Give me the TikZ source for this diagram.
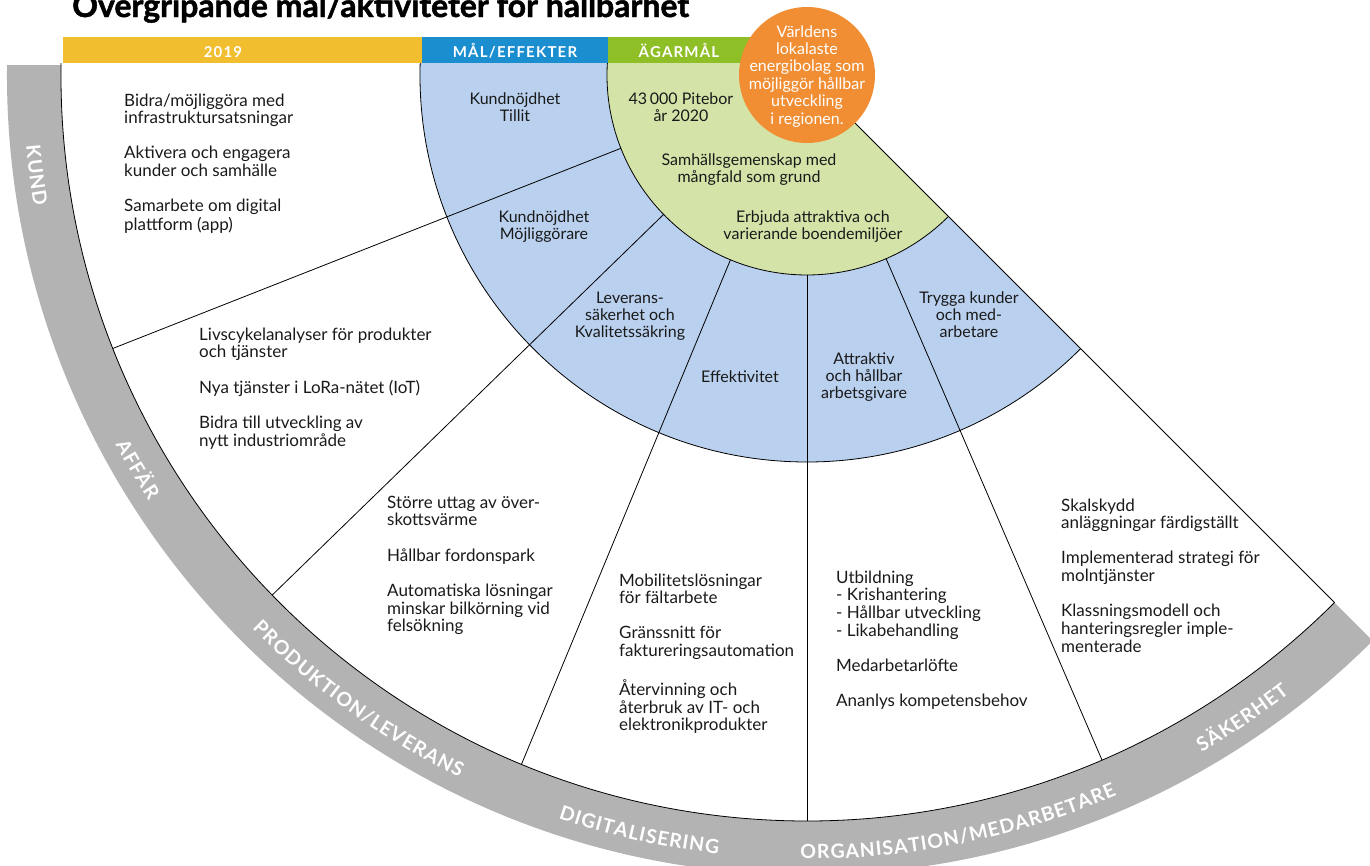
\documentclass[tikz,border=0pt]{standalone}
\usepackage{fontspec}
\setmainfont{Lato}
\usetikzlibrary{decorations.text}
\definecolor{hdyellow}{HTML}{F1BE2F}
\definecolor{hdblue}{HTML}{1B8ECF}
\definecolor{hdgreen}{HTML}{8EBF26}
\definecolor{fillgreen}{HTML}{D4E4A8}
\definecolor{fillblue}{HTML}{B9D0EE}
\definecolor{orangec}{HTML}{F18D32}
\definecolor{bandgray}{HTML}{B3B3B3}
\definecolor{txtblack}{HTML}{1A1A1A}
\newcommand{\bodyfont}{\fontsize{17}{17.4}\selectfont}
\newcommand{\innerfont}{\fontsize{16}{17.4}\selectfont}
\newcommand{\bandfont}{\fontsize{19.5}{19.5}\selectfont\bfseries}
\newcommand{\pgap}{\\[17.4pt]}
\newcommand{\lblock}[1]{\begin{tabular}[t]{@{}l@{}}#1\end{tabular}}
\newcommand{\cblock}[1]{\begin{tabular}[t]{@{}c@{}}#1\end{tabular}}
\newcommand{\bandlabel}[2]{%
  \path[font=\bandfont, decorate, decoration={text effects along path, text={#2}, text align=center,
    text effects/.cd, text along path, character widths={inner xsep=0.5pt, font=\bandfont},
    characters={text=white, font=\bandfont}}]
    (#1-16:784) arc[start angle=#1-16, end angle=#1+16, radius=784];}
\tikzset{
  txtl/.style={anchor=base west, inner sep=0pt, font=\bodyfont, text=txtblack},
  txtc/.style={anchor=base, inner sep=0pt, font=\innerfont, text=txtblack},
  divider/.style={line width=0.8pt, black},
  hdlabel/.style={anchor=base, text=white, inner sep=0pt,
    font=\fontsize{15}{15}\selectfont\bfseries\addfontfeature{LetterSpace=8}},
}
\begin{document}
\begin{tikzpicture}[x=1pt, y=1pt]
\useasboundingbox (-807,-790) rectangle (563,75);
% gray band
\begin{scope}
  \clip (-810,10) rectangle (570,-800);
  \fill[bandgray] (178:800) arc[start angle=178, end angle=315, radius=800]
    -- (315:746) arc[start angle=315, end angle=178, radius=746] -- cycle;
\end{scope}
% rings
\begin{scope}
  \clip (-810,12) rectangle (570,-800);
  \fill[fillblue] (178:387) arc[start angle=178, end angle=315, radius=387]
    -- (315:200) arc[start angle=315, end angle=176, radius=200] -- cycle;
  \fill[fillgreen] (0,13) -- (176.3:200) arc[start angle=176.3, end angle=315, radius=200] -- (0,0) -- cycle;
  \draw[divider] (178:746) arc[start angle=178, end angle=315, radius=746];
  \draw[divider] (178:387) arc[start angle=178, end angle=315, radius=387];
  \draw[divider] (176.3:200) arc[start angle=176.3, end angle=315, radius=200];
\end{scope}
% radial dividers
\foreach \a in {201.5,224.2,247.5,270,293.3}{
  \draw[divider] (\a:200) -- (\a:746);
}
\draw[divider] (0,0) -- (315:746);
% header
\fill[hdyellow] (-744,12) rectangle (-385,38);
\fill[hdblue] (-385,12) rectangle (-199,38);
\fill[hdgreen] (-199,12) rectangle (0,38);
\node[hdlabel] (h2019) at (-584,18) {2019};
\node[hdlabel] (hmal) at (-292,18) {MÅL/EFFEKTER};
\node[hdlabel] (hagar) at (-128,18) {ÄGARMÅL};
% title
\node[anchor=base west, inner sep=0pt, font=\fontsize{32}{32}\selectfont\bfseries\addfontfeature{FakeBold=1.5}] (title) at (-735,58) {Övergripande mål/aktiviteter för hållbarhet};
% orange circle
\fill[orangec] (0,0) circle[radius=68];
\node[anchor=base, inner sep=0pt, font=\innerfont, text=white] (vision) at (0,38)
  {\cblock{Världens\\lokalaste\\energibolag som\\möjliggör hållbar\\utveckling\\i regionen.}};
% green texts
\node[txtc] (pitebor) at (-126,-29) {\cblock{43\,000 Pitebor\\år 2020}};
\node[txtc] (samhalle) at (-58,-90) {\cblock{Samhällsgemenskap med\\mångfald som grund}};
\node[txtc] (boende) at (6,-147) {\cblock{Erbjuda attraktiva och\\varierande boendemiljöer}};
% blue texts
\node[txtc] (tillit) at (-292,-29) {\cblock{Kundnöjdhet\\Tillit}};
\node[txtc] (mojlig) at (-263,-147) {\cblock{Kundnöjdhet\\Möjliggörare}};
\node[txtc] (leverans) at (-177,-228) {\cblock{Leverans-\\säkerhet och\\Kvalitetssäkring}};
\node[txtc] (effekt) at (-67,-307) {Effektivitet};
\node[txtc] (arbets) at (57,-289) {\cblock{Attraktiv\\och hållbar\\arbetsgivare}};
\node[txtc] (trygga) at (162,-228) {\cblock{Trygga kunder\\och med-\\arbetare}};
% white texts
\node[txtl] (kund) at (-683,-31) {\lblock{Bidra/möjliggöra med\\infrastruktursatsningar\pgap
  Aktivera och engagera\\kunder och samhälle\pgap Samarbete om digital\\plattform (app)}};
\node[txtl] (affar) at (-608,-265) {\lblock{Livscykelanalyser för produkter\\och tjänster\pgap
  Nya tjänster i LoRa-nätet (IoT)\pgap Bidra till utveckling av\\nytt industriområde}};
\node[txtl] (prod) at (-420,-433) {\lblock{Större uttag av över-\\skottsvärme\pgap
  Hållbar fordonspark\pgap Automatiska lösningar\\minskar bilkörning vid\\felsökning}};
\node[txtl] (digi) at (-188,-511) {\lblock{Mobilitetslösningar\\för fältarbete\pgap
  Gränssnitt för\\faktureringsautomation\pgap Återvinning och\\återbruk av IT- och\\elektronikprodukter}};
\node[txtl] (org) at (29,-508) {\lblock{Utbildning\\- Krishantering\\- Hållbar utveckling\\- Likabehandling\pgap
  Medarbetarlöfte\pgap Ananlys kompetensbehov}};
\node[txtl] (sak) at (254,-436) {\lblock{Skalskydd\\anläggningar färdigställt\pgap
  Implementerad strategi för\\molntjänster\pgap Klassningsmodell och\\hanteringsregler imple-\\menterade}};
% band labels
\bandlabel{187.4}{KUND}
\bandlabel{210.5}{AFFÄR}
\bandlabel{234.3}{PRODUKTION/LEVERANS}
\bandlabel{257.5}{DIGITALISERING}
\bandlabel{281.4}{ORGANISATION/MEDARBETARE}
\bandlabel{304.1}{SÄKERHET}
\end{tikzpicture}
\end{document}
